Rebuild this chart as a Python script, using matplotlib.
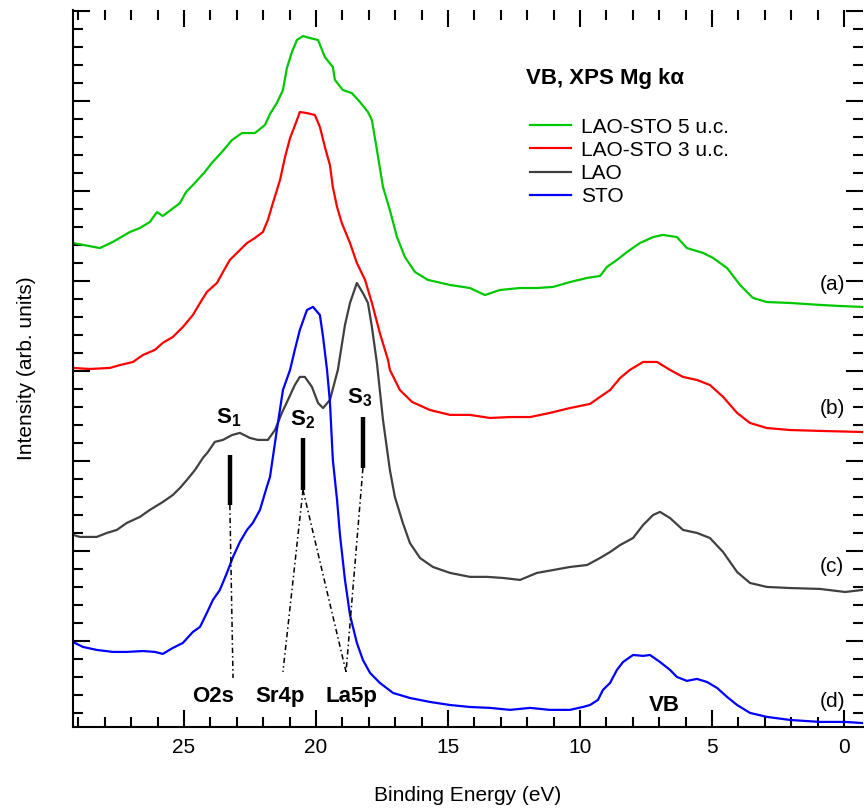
import matplotlib
matplotlib.use("Agg")
import matplotlib.pyplot as plt
from matplotlib.ticker import MultipleLocator

plt.rcParams['font.family'] = ['Liberation Sans', 'DejaVu Sans']
plt.rcParams['mathtext.fontset'] = 'custom'
plt.rcParams['mathtext.rm'] = 'Liberation Sans'
plt.rcParams['mathtext.bf'] = 'Liberation Sans:bold'

# binding energy (eV) and intensity (arb. units, offset spectra)
green_e = [29.20, 28.18, 27.69, 27.05, 26.67, 26.29, 26.02, 25.80, 25.15, 24.92,
           24.66, 24.24, 23.94, 23.56, 23.18, 22.80, 22.31, 21.93, 21.74, 21.48,
           21.25, 21.10, 20.91, 20.72, 20.49, 20.23, 19.92, 19.66, 19.36, 19.28,
           18.98, 18.64, 18.33, 18.03, 17.88, 17.69, 17.46, 17.20, 16.93, 16.63,
           16.25, 15.76, 14.92, 14.17, 13.60, 13.03, 12.27, 11.63, 11.02, 10.38,
           9.73, 9.24, 8.98, 8.60, 8.22, 7.73, 7.23, 6.86, 6.33, 5.95,
           5.34, 4.96, 4.43, 3.94, 3.45, 2.92, 2.05, 0.91, 0.15, -0.68]
green_i = [22.11, 21.83, 22.17, 22.72, 22.94, 23.28, 23.83, 23.61, 24.33, 24.94,
           25.33, 26.00, 26.56, 27.17, 27.83, 28.22, 28.22, 28.67, 29.28, 29.89,
           30.61, 31.83, 32.72, 33.39, 33.61, 33.50, 33.39, 32.44, 31.89, 31.17,
           30.61, 30.44, 29.94, 29.39, 28.94, 27.28, 25.22, 23.94, 22.44, 21.33,
           20.50, 20.06, 19.78, 19.61, 19.22, 19.50, 19.61, 19.61, 19.67, 19.94,
           20.17, 20.28, 20.78, 21.17, 21.61, 22.11, 22.44, 22.56, 22.44, 21.83,
           21.56, 21.28, 20.72, 19.78, 19.06, 18.83, 18.78, 18.67, 18.61, 18.56]

red_e = [29.20, 28.56, 27.80, 27.42, 26.93, 26.55, 26.10, 25.80, 25.42, 25.04,
         24.66, 24.39, 24.13, 23.75, 23.52, 23.26, 22.88, 22.61, 22.31, 22.01,
         21.82, 21.63, 21.36, 21.17, 20.98, 20.72, 20.61, 20.34, 20.04, 19.85,
         19.66, 19.47, 19.36, 19.20, 19.02, 18.71, 18.45, 18.14, 17.88, 17.58,
         17.27, 17.20, 16.82, 16.36, 15.68, 14.92, 14.17, 13.41, 12.65, 11.89,
         11.14, 10.38, 9.62, 9.24, 8.86, 8.48, 8.11, 7.61, 7.08, 6.59,
         6.10, 5.57, 5.08, 4.58, 4.05, 3.56, 2.92, 2.05, 0.91, -0.68]
red_i = [15.17, 15.11, 15.17, 15.33, 15.50, 15.89, 16.17, 16.56, 16.89, 17.44,
         18.11, 18.78, 19.39, 19.89, 20.50, 21.17, 21.72, 22.11, 22.39, 22.72,
         23.39, 24.33, 25.61, 26.89, 27.94, 28.94, 29.39, 29.33, 29.22, 28.56,
         27.44, 26.44, 25.22, 24.11, 23.22, 22.11, 21.00, 20.06, 18.78, 17.11,
         15.61, 15.06, 13.94, 13.28, 12.83, 12.56, 12.56, 12.39, 12.44, 12.44,
         12.67, 12.94, 13.17, 13.56, 13.94, 14.61, 15.06, 15.50, 15.50, 15.06,
         14.67, 14.50, 14.22, 13.56, 12.67, 12.11, 11.83, 11.72, 11.67, 11.61]

gray_e = [29.20, 28.94, 28.30, 27.92, 27.54, 27.16, 26.67, 26.29, 25.80, 25.42,
          25.15, 24.89, 24.58, 24.28, 24.09, 23.83, 23.52, 23.18, 22.88, 22.50,
          22.20, 21.82, 21.55, 21.29, 21.06, 20.80, 20.61, 20.42, 20.15, 19.92,
          19.73, 19.47, 19.17, 18.90, 18.71, 18.45, 18.22, 18.03, 17.88, 17.69,
          17.46, 17.20, 17.01, 16.71, 16.44, 16.06, 15.57, 14.92, 14.17, 13.52,
          12.92, 12.27, 11.63, 11.02, 10.38, 9.73, 9.24, 8.86, 8.48, 7.99,
          7.61, 7.23, 6.97, 6.59, 6.10, 5.57, 5.08, 4.58, 4.05, 3.56,
          2.92, 2.05, 0.91, -0.04, -0.68]
gray_i = [5.89, 5.78, 5.78, 6.00, 6.17, 6.56, 6.89, 7.28, 7.72, 8.11,
          8.50, 8.94, 9.50, 10.17, 10.50, 11.06, 11.17, 11.44, 11.56, 11.28,
          11.17, 11.17, 11.72, 12.67, 13.39, 14.22, 14.67, 14.67, 14.11, 13.22,
          12.94, 13.39, 15.06, 17.56, 18.78, 19.89, 19.33, 18.78, 17.44, 15.44,
          12.28, 9.50, 8.00, 6.56, 5.44, 4.61, 4.11, 3.78, 3.56, 3.56,
          3.50, 3.39, 3.78, 3.94, 4.11, 4.22, 4.61, 4.94, 5.33, 5.72,
          6.44, 7.00, 7.17, 6.83, 6.17, 6.00, 5.72, 4.94, 3.83, 3.22,
          3.00, 2.94, 2.89, 2.72, 2.83]

blue_e = [29.20, 28.83, 28.30, 27.69, 27.16, 26.55, 26.10, 25.80, 25.42, 25.04,
          24.66, 24.39, 24.13, 23.90, 23.64, 23.37, 23.14, 22.88, 22.61, 22.39,
          22.12, 21.86, 21.74, 21.48, 21.25, 20.98, 20.80, 20.61, 20.34, 20.11,
          19.85, 19.73, 19.58, 19.47, 19.36, 19.20, 19.09, 18.90, 18.71, 18.45,
          18.22, 17.95, 17.58, 17.08, 16.44, 15.68, 14.92, 14.17, 13.41, 12.65,
          11.89, 11.14, 10.38, 9.89, 9.62, 9.32, 9.13, 8.86, 8.60, 8.37,
          7.99, 7.61, 7.35, 6.97, 6.59, 6.33, 5.95, 5.57, 5.19, 4.81,
          4.43, 4.05, 3.56, 2.92, 2.05, 0.91, -0.04, -0.68]
blue_i = [-0.06, -0.33, -0.50, -0.61, -0.61, -0.56, -0.61, -0.72, -0.39, -0.11,
          0.50, 0.78, 1.56, 2.28, 2.83, 3.78, 4.67, 5.50, 6.17, 6.56,
          7.28, 8.56, 9.11, 11.72, 13.94, 15.06, 16.17, 17.28, 18.39, 18.56,
          18.11, 16.89, 15.06, 13.28, 10.06, 7.83, 5.89, 3.39, 1.44, -0.11,
          -1.06, -1.78, -2.33, -2.89, -3.17, -3.39, -3.56, -3.67, -3.72, -3.83,
          -3.72, -3.83, -3.83, -3.67, -3.56, -3.28, -2.72, -2.33, -1.61, -1.17,
          -0.78, -0.83, -0.78, -1.17, -1.61, -2.00, -2.22, -2.11, -2.28, -2.61,
          -3.11, -3.56, -4.00, -4.22, -4.39, -4.50, -4.50, -4.56]

series_names = ['LAO-STO 5 u.c.', 'LAO-STO 3 u.c.', 'LAO', 'STO']
series_colors = ['#00c800', '#ff0000', '#404040', '#0000ff']
panel_tags = ['(a)', '(b)', '(c)', '(d)']
tag_y = [19.83, 12.94, 4.11, -3.39]

# peak markers S1..S3
peak_names = [r'$\mathbf{S_1}$', r'$\mathbf{S_2}$', r'$\mathbf{S_3}$']
peak_e = [23.26, 20.49, 18.22]
peak_top = [10.33, 11.28, 12.44]
peak_bot = [7.56, 8.39, 9.61]
peak_label_e = [23.30, 20.49, 18.33]
peak_label_y = [12.39, 12.28, 13.50]

# core levels the peaks are assigned to
level_names = ['O2s', 'Sr4p', 'La5p']
level_e = [23.90, 21.36, 18.67]
level_y = -3.11
guide_from = [0, 1, 1, 2]
guide_end_e = [23.14, 21.25, 18.86, 18.86]
guide_end_y = [-2.06, -1.72, -1.72, -1.72]


def main():
    fig = plt.figure(figsize=(8.64, 8.09), dpi=100)
    ax = fig.add_axes([0.0845, 0.1014, 0.9144, 0.8863])

    data = [(green_e, green_i), (red_e, red_i), (gray_e, gray_i), (blue_e, blue_i)]
    for (e, i), name, col in zip(data, series_names, series_colors):
        ax.plot(e, i, color=col, lw=1.6, label=name)

    for tag, y in zip(panel_tags, tag_y):
        ax.text(0.45, y, tag, fontsize=15, ha='center', va='center')

    for k in range(3):
        ax.plot([peak_e[k], peak_e[k]], [peak_bot[k], peak_top[k]], color='black', lw=3.2,
                solid_capstyle='butt')
        ax.text(peak_label_e[k], peak_label_y[k], peak_names[k], fontsize=16,
                ha='center', va='center')

    for k, src in enumerate(guide_from):
        ax.plot([peak_e[src], guide_end_e[k]], [peak_bot[src], guide_end_y[k]],
                color='black', lw=1.1, linestyle=(0, (3.5, 2, 1, 2)))

    for name, e in zip(level_names, level_e):
        ax.text(e, level_y, name, fontsize=16, fontweight='bold', ha='center', va='center')
    ax.text(6.82, -3.56, 'VB', fontsize=16, fontweight='bold', ha='center', va='center')

    ax.text(0.574, 0.904, 'VB, XPS Mg k\u03b1', transform=ax.transAxes, fontsize=16,
            fontweight='bold', ha='left', va='center')
    ax.legend(loc='upper left', bbox_to_anchor=(0.578, 0.850), frameon=False, fontsize=15,
              handlelength=2.0, handletextpad=0.45, labelspacing=0.2, borderpad=0,
              borderaxespad=0)

    ax.set_xlim(29.2, -0.72)
    ax.set_ylim(-4.78, 35.06)
    ax.xaxis.set_major_locator(MultipleLocator(5))
    ax.xaxis.set_minor_locator(MultipleLocator(1))
    ax.yaxis.set_major_locator(MultipleLocator(5))
    ax.yaxis.set_minor_locator(MultipleLocator(1))
    ax.tick_params(which='both', direction='in', top=True, right=True, width=1.5,
                   labelleft=False, labelsize=15, pad=8)
    ax.tick_params(which='major', length=12)
    ax.tick_params(which='minor', length=7)
    for side in ['top', 'right']:
        ax.spines[side].set_visible(False)
    for side in ['left', 'bottom']:
        ax.spines[side].set_linewidth(1.5)

    ax.set_xlabel('Binding Energy (eV)', fontsize=15, labelpad=21)
    ax.set_ylabel('Intensity (arb. units)', fontsize=15, labelpad=27)

    fig.savefig('out.png', dpi=100)


if __name__ == "__main__":
    main()
